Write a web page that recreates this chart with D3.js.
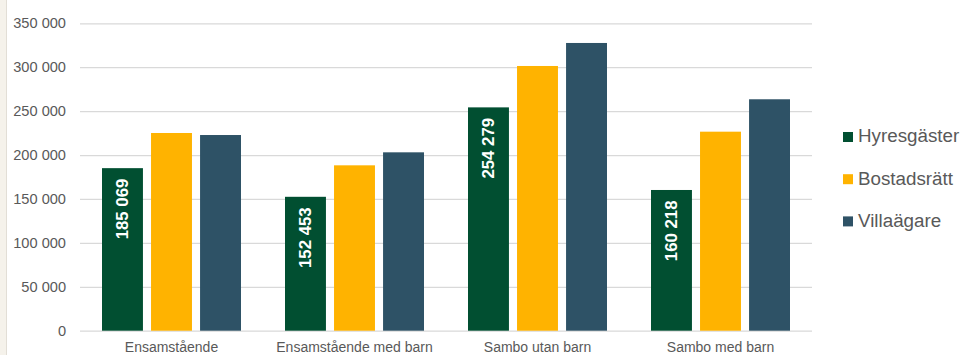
<!DOCTYPE html>
<html>
<head>
<meta charset="utf-8">
<script src="https://cdn.jsdelivr.net/npm/d3@7"></script>
<style>
  html, body { margin: 0; padding: 0; background: #fff; }
  svg { display: block; font-family: "Liberation Sans", Arial, sans-serif; }
</style>
</head>
<body>
<svg id="chart" width="967" height="355"></svg>
<script>
// Household categories and the three housing tenure series
const categories = ["Ensamstående", "Ensamstående med barn", "Sambo utan barn", "Sambo med barn"];
const seriesNames = ["Hyresgäster", "Bostadsrätt", "Villaägare"];
const hyresgaster = [185069, 152453, 254279, 160218];
const bostadsratt = [225100, 188300, 301400, 226600];
const villaagare = [222800, 203100, 327600, 263500];
const yTicks = [0, 50000, 100000, 150000, 200000, 250000, 300000, 350000];
const colors = ["#014f31", "#ffb300", "#2e5266"];
// Only the first series carries value labels
const labelled = [true, false, false];

const series = [hyresgaster, bostadsratt, villaagare];
const svg = d3.select("#chart");
const W = 967, H = 355;
const plot = { left: 80, right: 812, top: 23.3, bottom: 330.7 };

// Left border strip
svg.append("rect").attr("x", 0).attr("y", 0).attr("width", 6).attr("height", H).attr("fill", "#f5f2eb");
svg.append("line").attr("x1", 6.5).attr("x2", 6.5).attr("y1", 0).attr("y2", H)
  .attr("stroke", "#e2ded6").attr("stroke-width", 1);

const fmt = v => d3.format(",")(v).replace(/,/g, " ");

const x0 = d3.scaleBand().domain(categories).range([plot.left, plot.right]).paddingInner(0).paddingOuter(0);
const x1 = d3.scaleBand().domain(seriesNames).range([22, x0.bandwidth() - 22]).paddingInner(0.165).paddingOuter(0);
const y = d3.scaleLinear().domain([0, 350000]).range([plot.bottom, plot.top]);

// Gridlines and y tick labels
const yAxis = d3.axisLeft(y).tickValues(yTicks).tickSize(-(plot.right - plot.left)).tickPadding(14).tickFormat(fmt);
const gy = svg.append("g").attr("transform", `translate(${plot.left},0)`).call(yAxis);
gy.select(".domain").remove();
gy.selectAll(".tick line").attr("stroke", "#d9d9d9").attr("stroke-width", 1.3);
gy.selectAll(".tick text").attr("fill", "#595959").style("font-size", "14.6px")
  .style("font-family", "'Liberation Sans', Arial, sans-serif");

// Category axis labels
const xAxis = d3.axisBottom(x0).tickSize(0).tickPadding(0);
const gx = svg.append("g").attr("transform", `translate(0,${plot.bottom})`).call(xAxis);
gx.select(".domain").remove();
gx.selectAll(".tick text").attr("fill", "#595959").attr("dy", null).attr("y", 21.3)
  .style("font-size", "14px").style("font-family", "'Liberation Sans', Arial, sans-serif");

// Bars
const groups = svg.append("g").selectAll("g").data(categories).join("g")
  .attr("transform", d => `translate(${x0(d)},0)`);

seriesNames.forEach((name, si) => {
  groups.append("rect")
    .attr("x", x1(name))
    .attr("width", x1.bandwidth())
    .attr("y", (d, i) => y(series[si][i]))
    .attr("height", (d, i) => y(0) - y(series[si][i]))
    .attr("fill", colors[si]);
  if (labelled[si]) {
    groups.append("text")
      .attr("transform", (d, i) => `translate(${x1(name) + x1.bandwidth() / 2},${y(series[si][i]) + 10.5}) rotate(-90)`)
      .attr("text-anchor", "end")
      .attr("dy", "0.35em")
      .attr("fill", "#fff")
      .style("font-weight", "bold")
      .style("font-size", "16.8px")
      .text((d, i) => fmt(series[si][i]));
  }
});

// Legend
const legend = svg.append("g").attr("transform", "translate(843,0)");
seriesNames.forEach((name, i) => {
  const by = 142.3 + i * 42.2;
  legend.append("rect").attr("x", 0).attr("y", by - 10.3).attr("width", 10).attr("height", 10).attr("fill", colors[i]);
  legend.append("text").attr("x", 15).attr("y", by).attr("fill", "#595959")
    .style("font-size", "18.8px").text(name);
});
</script>
</body>
</html>
